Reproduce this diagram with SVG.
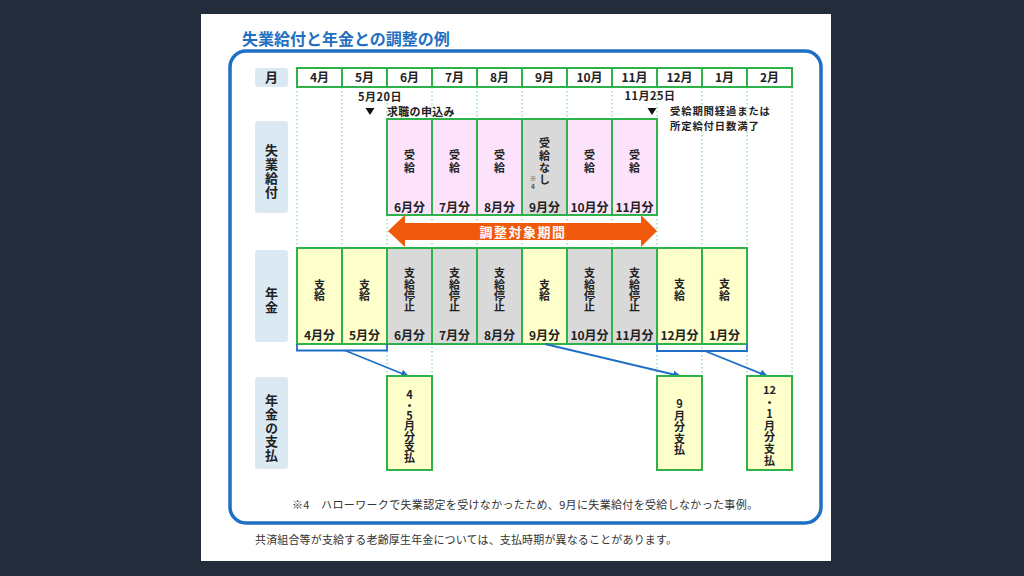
<svg xmlns="http://www.w3.org/2000/svg" width="1024" height="576" viewBox="0 0 1024 576">
<defs>
<style>
.t{font-family:"Noto Sans CJK JP","Noto Sans",sans-serif;font-weight:bold;fill:#222;text-anchor:middle}
.v{writing-mode:vertical-rl;text-orientation:upright;text-anchor:start}
.n{font-family:"Noto Sans CJK JP","Noto Sans",sans-serif;fill:#333}
.c{stroke:#2db34a;stroke-width:2}
.pk{fill:#fde2fb}.gy{fill:#d9d9d9}.yl{fill:#ffffcc}.wh{fill:#fff}
.lb{fill:#dae9f2}
.dt{stroke:#6fcf85;stroke-width:1;stroke-dasharray:1.5 2.5}
.bl{stroke:#1f6fc5;stroke-width:1.8;fill:none}
</style>
<marker id="ah" markerWidth="8" markerHeight="8" refX="7" refY="4" orient="auto" markerUnits="userSpaceOnUse">
<path d="M0,0 L8,4 L0,8 Z" fill="#1f6fc5"/>
</marker>
</defs>
<rect width="1024" height="576" fill="#232c3a"/>
<rect x="201" y="14" width="630" height="547" fill="#fff"/>
<text x="242" y="45" font-family="'Noto Sans CJK JP',sans-serif" font-weight="bold" font-size="16" fill="#1f6fc0">失業給付と年金との調整の例</text>
<rect x="230" y="51" width="591" height="472" rx="16" fill="none" stroke="#1f6fc5" stroke-width="3.5"/>

<g id="gridlines">
<line class="dt" x1="297" y1="87" x2="297" y2="248"/>
<line class="dt" x1="342" y1="87" x2="342" y2="248"/>
<line class="dt" x1="387" y1="87" x2="387" y2="376"/>
<line class="dt" x1="432" y1="87" x2="432" y2="376"/>
<line class="dt" x1="477" y1="87" x2="477" y2="248"/>
<line class="dt" x1="522" y1="87" x2="522" y2="248"/>
<line class="dt" x1="567" y1="87" x2="567" y2="248"/>
<line class="dt" x1="612" y1="87" x2="612" y2="248"/>
<line class="dt" x1="657" y1="87" x2="657" y2="376"/>
<line class="dt" x1="702" y1="87" x2="702" y2="376"/>
<line class="dt" x1="747" y1="87" x2="747" y2="376"/>
<line class="dt" x1="792" y1="87" x2="792" y2="376"/>
</g>

<g id="labels">
<rect class="lb" x="255" y="68" width="33" height="19" rx="3"/>
<text class="t" x="271.5" y="82" font-size="13">月</text>
<rect class="lb" x="255" y="121" width="33" height="92" rx="3"/>
<text class="t v" x="271.5" y="143.5" font-size="13" letter-spacing="1">失業給付</text>
<rect class="lb" x="255" y="250" width="33" height="92" rx="3"/>
<text class="t v" x="271.5" y="286.5" font-size="13" letter-spacing="1">年金</text>
<rect class="lb" x="255" y="377" width="33" height="92" rx="3"/>
<text class="t v" x="271.5" y="393.5" font-size="13" letter-spacing="0.8">年金の支払</text>
</g>

<g id="months">
<rect class="c wh" x="297" y="68" width="45" height="19"/><text class="t" x="319.5" y="82" font-size="12">4月</text>
<rect class="c wh" x="342" y="68" width="45" height="19"/><text class="t" x="364.5" y="82" font-size="12">5月</text>
<rect class="c wh" x="387" y="68" width="45" height="19"/><text class="t" x="409.5" y="82" font-size="12">6月</text>
<rect class="c wh" x="432" y="68" width="45" height="19"/><text class="t" x="454.5" y="82" font-size="12">7月</text>
<rect class="c wh" x="477" y="68" width="45" height="19"/><text class="t" x="499.5" y="82" font-size="12">8月</text>
<rect class="c wh" x="522" y="68" width="45" height="19"/><text class="t" x="544.5" y="82" font-size="12">9月</text>
<rect class="c wh" x="567" y="68" width="45" height="19"/><text class="t" x="589.5" y="82" font-size="12">10月</text>
<rect class="c wh" x="612" y="68" width="45" height="19"/><text class="t" x="634.5" y="82" font-size="12">11月</text>
<rect class="c wh" x="657" y="68" width="45" height="19"/><text class="t" x="679.5" y="82" font-size="12">12月</text>
<rect class="c wh" x="702" y="68" width="45" height="19"/><text class="t" x="724.5" y="82" font-size="12">1月</text>
<rect class="c wh" x="747" y="68" width="45" height="19"/><text class="t" x="769.5" y="82" font-size="12">2月</text>
</g>

<g id="events">
<text class="t" x="380" y="100.5" font-size="11" letter-spacing="0.5">5月20日</text>
<polygon points="365.5,108 374.5,108 370,115" fill="#111"/>
<text class="t" x="387" y="115.5" font-size="11" style="text-anchor:start" letter-spacing="0.3">求職の申込み</text>
<text class="t" x="650" y="100" font-size="11" letter-spacing="0.5">11月25日</text>
<polygon points="647.5,108 656.5,108 652,115" fill="#111"/>
<text class="t" x="670" y="114.5" font-size="10.3" style="text-anchor:start" letter-spacing="0.9">受給期間経過または</text>
<text class="t" x="670" y="129.5" font-size="10.3" style="text-anchor:start" letter-spacing="0.9">所定給付日数満了</text>
</g>

<g id="unemployment">
<g id="u6"><rect class="c pk" x="387" y="119" width="45" height="96"/><text class="t v" x="409.5" y="149.5" font-size="11" letter-spacing="2">受給</text><text class="t" x="409.5" y="211.5" font-size="12">6月分</text></g>
<g id="u7"><rect class="c pk" x="432" y="119" width="45" height="96"/><text class="t v" x="454.5" y="149.5" font-size="11" letter-spacing="2">受給</text><text class="t" x="454.5" y="211.5" font-size="12">7月分</text></g>
<g id="u8"><rect class="c pk" x="477" y="119" width="45" height="96"/><text class="t v" x="499.5" y="149.5" font-size="11" letter-spacing="2">受給</text><text class="t" x="499.5" y="211.5" font-size="12">8月分</text></g>
<g id="u9"><rect class="c gy" x="522" y="119" width="45" height="96"/><text class="t v" x="544.5" y="137.8" font-size="11" letter-spacing="1.2">受給なし</text><text class="t v" x="533" y="175" font-size="6.5" letter-spacing="2" style="fill:#555">※4</text><text class="t" x="544.5" y="211.5" font-size="12">9月分</text></g>
<g id="u10"><rect class="c pk" x="567" y="119" width="45" height="96"/><text class="t v" x="589.5" y="149.5" font-size="11" letter-spacing="2">受給</text><text class="t" x="589.5" y="211.5" font-size="12">10月分</text></g>
<g id="u11"><rect class="c pk" x="612" y="119" width="45" height="96"/><text class="t v" x="634.5" y="149.5" font-size="11" letter-spacing="2">受給</text><text class="t" x="634.5" y="211.5" font-size="12">11月分</text></g>
</g>

<g id="period">
<polygon points="388,231 405,215 405,223 641,223 641,215 657,231 641,247 641,240 405,240 405,247" fill="#ef5a0c"/>
<text class="t" x="523" y="236.5" font-size="13" style="fill:#fff" letter-spacing="1.5">調整対象期間</text>
</g>

<g id="pension">
<g id="p4"><rect class="c yl" x="297" y="248" width="45" height="96"/><text class="t v" x="319.5" y="279.5" font-size="11" letter-spacing="0.3">支給</text><text class="t" x="319.5" y="339.5" font-size="12">4月分</text></g>
<g id="p5"><rect class="c yl" x="342" y="248" width="45" height="96"/><text class="t v" x="364.5" y="279.5" font-size="11" letter-spacing="0.3">支給</text><text class="t" x="364.5" y="339.5" font-size="12">5月分</text></g>
<g id="p6"><rect class="c gy" x="387" y="248" width="45" height="96"/><text class="t v" x="409.5" y="267.8" font-size="11" letter-spacing="0.2">支給停止</text><text class="t" x="409.5" y="339.5" font-size="12">6月分</text></g>
<g id="p7"><rect class="c gy" x="432" y="248" width="45" height="96"/><text class="t v" x="454.5" y="267.8" font-size="11" letter-spacing="0.2">支給停止</text><text class="t" x="454.5" y="339.5" font-size="12">7月分</text></g>
<g id="p8"><rect class="c gy" x="477" y="248" width="45" height="96"/><text class="t v" x="499.5" y="267.8" font-size="11" letter-spacing="0.2">支給停止</text><text class="t" x="499.5" y="339.5" font-size="12">8月分</text></g>
<g id="p9"><rect class="c yl" x="522" y="248" width="45" height="96"/><text class="t v" x="544.5" y="279.5" font-size="11" letter-spacing="0.3">支給</text><text class="t" x="544.5" y="339.5" font-size="12">9月分</text></g>
<g id="p10"><rect class="c gy" x="567" y="248" width="45" height="96"/><text class="t v" x="589.5" y="267.8" font-size="11" letter-spacing="0.2">支給停止</text><text class="t" x="589.5" y="339.5" font-size="12">10月分</text></g>
<g id="p11"><rect class="c gy" x="612" y="248" width="45" height="96"/><text class="t v" x="634.5" y="267.8" font-size="11" letter-spacing="0.2">支給停止</text><text class="t" x="634.5" y="339.5" font-size="12">11月分</text></g>
<g id="p12"><rect class="c yl" x="657" y="248" width="45" height="96"/><text class="t v" x="679.5" y="278" font-size="11" letter-spacing="1">支給</text><text class="t" x="679.5" y="339.5" font-size="12">12月分</text></g>
<g id="p1"><rect class="c yl" x="702" y="248" width="45" height="96"/><text class="t v" x="724.5" y="278" font-size="11" letter-spacing="1">支給</text><text class="t" x="724.5" y="339.5" font-size="12">1月分</text></g>
</g>

<g id="connectors">
<path class="bl" d="M297,344 V350.5 H387 V344"/>
<path class="bl" d="M657,344 V351 H747 V344"/>
<line class="bl" x1="345" y1="350.5" x2="408" y2="376" marker-end="url(#ah)"/>
<line class="bl" x1="545" y1="344" x2="680" y2="376" marker-end="url(#ah)"/>
<line class="bl" x1="705" y1="351" x2="767" y2="376" marker-end="url(#ah)"/>
</g>

<g id="payments">
<g id="pay45"><rect class="c yl" x="387" y="376" width="45" height="94"/><text class="t v" x="409.5" y="389.5" font-size="11" letter-spacing="-0.6">4・5月分支払</text></g>
<g id="pay9"><rect class="c yl" x="657" y="376" width="45" height="94"/><text class="t v" x="679.5" y="398.5" font-size="11" letter-spacing="0.5">9月分支払</text></g>
<g id="pay121"><rect class="c yl" x="747" y="376" width="45" height="94"/><text class="t" x="769.5" y="393.5" font-size="11">12</text><text class="t v" x="769.5" y="397" font-size="11" letter-spacing="0.6">・1月分支払</text></g>
</g>

<g id="notes">
<text class="n" x="292" y="509" font-size="11" textLength="466" lengthAdjust="spacing">※4　ハローワークで失業認定を受けなかったため、9月に失業給付を受給しなかった事例。</text>
<text class="n" x="255" y="544" font-size="11" textLength="422" lengthAdjust="spacing">共済組合等が支給する老齢厚生年金については、支払時期が異なることがあります。</text>
</g>
</svg>
